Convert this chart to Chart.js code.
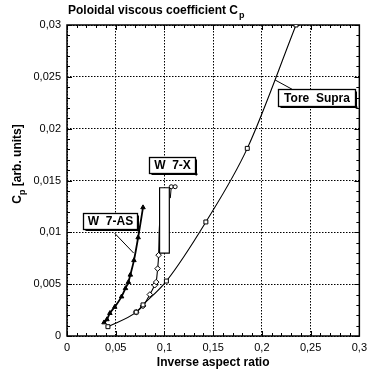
<!DOCTYPE html>
<html>
<head>
<meta charset="utf-8">
<script src="https://cdn.jsdelivr.net/npm/chart.js@4"></script>
<style>
  html, body { margin: 0; padding: 0; background: #fff; }
  #wrap { width: 372px; height: 373px; }
</style>
</head>
<body>
<div id="wrap"><canvas id="myChart" width="372" height="373"></canvas></div>
<script>
// values
const toreX = [0.042, 0.071, 0.078, 0.102, 0.1425, 0.185, 0.235];
const toreY = [0.0009, 0.0023, 0.0030, 0.0053, 0.0110, 0.0181, 0.0300];

const w7asX = [0.038, 0.041, 0.044, 0.049, 0.056, 0.060, 0.063, 0.065, 0.0687, 0.073, 0.078];
const w7asY = [0.0013, 0.0016, 0.0022, 0.0028, 0.0038, 0.0046, 0.0052, 0.0059, 0.0073, 0.0095, 0.0124];

const w7xX = [0.071, 0.078, 0.085, 0.090, 0.0915, 0.093, 0.094, 0.095, 0.095];
const w7xY = [0.0023, 0.0029, 0.0040, 0.0049, 0.0052, 0.0065, 0.0078, 0.0110, 0.0143];

// the W 7-X range box and the small marks next to it
const w7xBoxX = [0.095, 0.105, 0.105, 0.095, 0.095];
const w7xBoxY = [0.0080, 0.0080, 0.0143, 0.0143, 0.0080];
const w7xTopX = [0.106, 0.107, 0.111];
const w7xTopY = [0.0133, 0.0144, 0.0144];

const xTicks = ['0', '0,05', '0,1', '0,15', '0,2', '0,25', '0,3'];
const yTicks = ['0', '0,005', '0,01', '0,015', '0,02', '0,025', '0,03'];

function pts(xs, ys) {
    return xs.map((x, i) => ({ x: x, y: ys[i] }));
}

// label boxes, placed in data units
const notes = [
    { text: 'W 7-AS', x0: 0.0165, x1: 0.0715, y0: 0.0103, y1: 0.0119, line: [0.049, 0.0099, 0.0684, 0.0080] },
    { text: 'W 7-X', x0: 0.0837, x1: 0.1316, y0: 0.0157, y1: 0.0173, line: null },
    { text: 'Tore Supra', x0: 0.217, x1: 0.296, y0: 0.0222, y1: 0.0238, line: [0.2135, 0.0247, 0.231, 0.0238] }
];

const FONT = '"Liberation Sans", Arial, sans-serif';

const frame = {
    id: 'frame',
    beforeDatasetsDraw(chart) {
        const { ctx, chartArea: a, scales: { x, y } } = chart;
        ctx.save();
        ctx.strokeStyle = '#000';
        ctx.lineWidth = 1.5;
        ctx.strokeRect(a.left, a.top, a.right - a.left, a.bottom - a.top);
        // minor and major ticks, inward, all sides
        ctx.lineWidth = 1;
        ctx.beginPath();
        for (let i = 0; i <= 30; i++) {
            const px = Math.round(x.getPixelForValue(i * 0.01)) + 0.5;
            const len = i % 5 === 0 ? 5 : 3;
            ctx.moveTo(px, a.bottom); ctx.lineTo(px, a.bottom - len);
            ctx.moveTo(px, a.top); ctx.lineTo(px, a.top + len);
        }
        for (let i = 0; i <= 30; i++) {
            const py = Math.round(y.getPixelForValue(i * 0.001)) + 0.5;
            const len = i % 5 === 0 ? 5 : 3;
            ctx.moveTo(a.left, py); ctx.lineTo(a.left + len, py);
            ctx.moveTo(a.right, py); ctx.lineTo(a.right - len, py);
        }
        ctx.stroke();
        ctx.restore();
    },
    afterDatasetsDraw(chart) {
        const { ctx, chartArea: a, scales: { x, y } } = chart;
        ctx.save();
        ctx.fillStyle = '#000';
        ctx.strokeStyle = '#000';
        ctx.textBaseline = 'middle';
        ctx.font = 'bold 12px ' + FONT;

        notes.forEach(n => {
            if (n.line) {
                ctx.lineWidth = 1;
                ctx.beginPath();
                ctx.moveTo(x.getPixelForValue(n.line[0]), y.getPixelForValue(n.line[1]));
                ctx.lineTo(x.getPixelForValue(n.line[2]), y.getPixelForValue(n.line[3]));
                ctx.stroke();
            }
            const l = Math.round(x.getPixelForValue(n.x0)) + 0.5;
            const r = Math.round(x.getPixelForValue(n.x1)) + 0.5;
            const t = Math.round(y.getPixelForValue(n.y1)) + 0.5;
            const b = Math.round(y.getPixelForValue(n.y0)) + 0.5;
            ctx.fillStyle = '#fff';
            ctx.fillRect(l, t, r - l, b - t);
            ctx.fillStyle = '#000';
            ctx.fillRect(l + 2, b, r - l, 1.5);
            ctx.fillRect(r, t + 2, 1.5, b - t);
            ctx.lineWidth = 1.3;
            ctx.strokeRect(l, t, r - l, b - t);
            ctx.textAlign = 'center';
            ctx.fillText(n.text.replace(' ', '  '), (l + r) / 2, (t + b) / 2 + 0.5);
        });

        // title with subscript
        ctx.textAlign = 'left';
        ctx.textBaseline = 'alphabetic';
        ctx.font = 'bold 12px ' + FONT;
        const title = 'Poloidal viscous coefficient C';
        ctx.fillText(title, a.left + 1, 14);
        const tw = ctx.measureText(title).width;
        ctx.font = 'bold 9px ' + FONT;
        ctx.fillText('p', a.left + 2 + tw, 18);

        // x axis title
        ctx.font = 'bold 12px ' + FONT;
        ctx.textAlign = 'center';
        ctx.fillText('Inverse aspect ratio', (a.left + a.right) / 2, 366);

        // y axis title, rotated, with subscript
        ctx.translate(21, 164);
        ctx.rotate(-Math.PI / 2);
        ctx.textAlign = 'left';
        const main = ' [arb. units]';
        ctx.font = 'bold 12px ' + FONT;
        const wc = ctx.measureText('C').width;
        const wm = ctx.measureText(main).width;
        ctx.font = 'bold 9px ' + FONT;
        const wp = ctx.measureText('p').width;
        const start = -(wc + wp + wm) / 2;
        ctx.font = 'bold 12px ' + FONT;
        ctx.fillText('C', start, 0);
        ctx.font = 'bold 9px ' + FONT;
        ctx.fillText('p', start + wc, 4);
        ctx.font = 'bold 12px ' + FONT;
        ctx.fillText(main, start + wc + wp, 0);
        ctx.restore();
    }
};

const ctx = document.getElementById('myChart').getContext('2d');

new Chart(ctx, {
    type: 'scatter',
    data: {
        datasets: [
            {
                label: 'W 7-X box',
                data: pts(w7xBoxX, w7xBoxY),
                showLine: true,
                fill: 'shape',
                backgroundColor: '#fff',
                borderColor: '#000',
                borderWidth: 1.2,
                pointRadius: 0,
                tension: 0
            },
            {
                label: 'Tore Supra',
                data: pts(toreX, toreY),
                showLine: true,
                borderColor: '#000',
                borderWidth: 1.1,
                cubicInterpolationMode: 'monotone',
                pointStyle: 'rect',
                pointRadius: 2.8,
                pointBackgroundColor: '#fff',
                pointBorderColor: '#000',
                pointBorderWidth: 1
            },
            {
                label: 'W 7-AS',
                data: pts(w7asX, w7asY),
                showLine: true,
                borderColor: '#000',
                borderWidth: 1.8,
                cubicInterpolationMode: 'monotone',
                pointStyle: 'triangle',
                pointRadius: 2.6,
                pointBackgroundColor: '#000',
                pointBorderColor: '#000',
                pointBorderWidth: 1
            },
            {
                label: 'W 7-X',
                data: pts(w7xX, w7xY),
                showLine: true,
                borderColor: '#000',
                borderWidth: 1.1,
                cubicInterpolationMode: 'monotone',
                pointStyle: 'rectRot',
                pointRadius: [2.8, 2.8, 2.8, 2.8, 2.8, 2.8, 2.8, 0, 0],
                pointBackgroundColor: '#fff',
                pointBorderColor: '#000',
                pointBorderWidth: 1
            },
            {
                label: 'W 7-X top',
                data: pts(w7xTopX, w7xTopY),
                showLine: true,
                borderColor: '#000',
                borderWidth: 1,
                pointStyle: 'circle',
                pointRadius: [0, 2, 2],
                pointBackgroundColor: '#fff',
                pointBorderColor: '#000',
                pointBorderWidth: 1
            }
        ]
    },
    options: {
        responsive: false,
        animation: false,
        layout: { padding: { left: 0, right: 11, top: 25, bottom: 0 } },
        plugins: {
            legend: { display: false },
            title: { display: false },
            tooltip: { enabled: false }
        },
        scales: {
            x: {
                type: 'linear',
                min: 0,
                max: 0.3,
                afterFit(scale) { scale.height = 37; },
                afterBuildTicks(scale) {
                    scale.ticks = xTicks.map((t, i) => ({ value: i * 0.05 }));
                },
                ticks: {
                    color: '#000',
                    padding: 5,
                    maxRotation: 0,
                    autoSkip: false,
                    font: { family: FONT, size: 11 },
                    callback: (v, i) => xTicks[i]
                },
                grid: { color: '#000', lineWidth: 1, drawTicks: false },
                border: { display: false, dash: [1.5, 1.5] }
            },
            y: {
                type: 'linear',
                min: 0,
                max: 0.03,
                afterFit(scale) { scale.width = 67; },
                afterBuildTicks(scale) {
                    scale.ticks = yTicks.map((t, i) => ({ value: i * 0.005 }));
                },
                ticks: {
                    color: '#000',
                    padding: 6,
                    autoSkip: false,
                    font: { family: FONT, size: 11 },
                    callback: (v, i) => yTicks[i]
                },
                grid: { color: '#000', lineWidth: 1, drawTicks: false },
                border: { display: false, dash: [1.5, 1.5] }
            }
        }
    },
    plugins: [frame]
});
</script>
</body>
</html>
